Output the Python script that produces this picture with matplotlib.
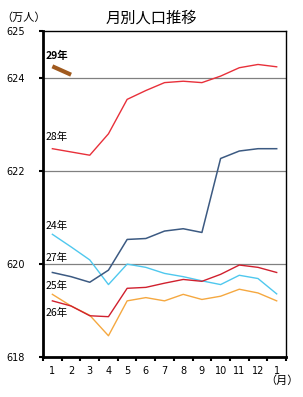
import matplotlib
matplotlib.use("Agg")
import matplotlib.pyplot as plt

plt.rcParams['font.family'] = ['Noto Sans CJK JP', 'DejaVu Sans']

months = ["1", "2", "3", "4", "5", "6", "7", "8", "9", "10", "11", "12", "1"]
y24 = [620.63, 620.36, 620.08, 619.55, 619.99, 619.92, 619.79, 619.72, 619.63, 619.55, 619.75, 619.68, 619.35]
y25 = [619.34, 619.09, 618.89, 618.45, 619.20, 619.27, 619.20, 619.34, 619.23, 619.30, 619.45, 619.37, 619.20]
y26 = [619.20, 619.09, 618.88, 618.86, 619.47, 619.49, 619.58, 619.66, 619.62, 619.77, 619.97, 619.92, 619.81]
y27 = [619.81, 619.72, 619.60, 619.86, 620.52, 620.54, 620.70, 620.75, 620.67, 622.26, 622.42, 622.47, 622.47]
y28 = [622.47, 622.40, 622.33, 622.79, 623.53, 623.72, 623.89, 623.92, 623.89, 624.03, 624.21, 624.28, 624.23]
y29 = [624.24, 624.06]
yticks = [618, 620, 622, 624, 625]

fig = plt.figure(figsize=(3.03, 3.97), dpi=100)
ax = fig.add_axes([0.142, 0.1015, 0.802, 0.8205])
x = list(range(len(months)))

for v in [620, 622, 624]:
    ax.axhline(v, color='#808080', lw=0.9, zorder=1)

ax.plot(x, y24, color='#4FC8EE', lw=1.0, zorder=3)
ax.plot(x, y25, color='#F5A840', lw=1.0, zorder=3)
ax.plot(x, y26, color='#D0202E', lw=1.0, zorder=3)
ax.plot(x, y27, color='#3C5A82', lw=1.1, zorder=3)
ax.plot(x, y28, color='#E8303A', lw=1.0, zorder=3)
ax.plot(x[:len(y29)], y29, color='#A05A1E', lw=3.0, solid_capstyle='butt', zorder=4)

ax.set_xlim(-0.5, len(months) - 0.5)
ax.set_ylim(618, 625)
ax.set_yticks(yticks)
ax.set_yticklabels([str(t) for t in yticks], fontsize=7, family='DejaVu Sans')
ax.set_xticks(x)
ax.set_xticklabels(months, fontsize=7, family='DejaVu Sans')
ax.set_xticks([i - 0.5 for i in range(len(months) + 1)], minor=True)
ax.tick_params(axis='x', which='major', length=0, pad=7)
ax.tick_params(axis='x', which='minor', length=3, width=1.5, direction='out')
ax.tick_params(axis='y', length=3, width=1.5, direction='out', pad=10)

for s in ['left', 'bottom']:
    ax.spines[s].set_linewidth(2.0)
for s in ['top', 'right']:
    ax.spines[s].set_linewidth(1.0)

fig.text(0.5, 0.955, "月別人口推移", ha='center', va='center', fontsize=11)
fig.text(0.005, 0.955, "（万人）", ha='left', va='center', fontsize=8)
fig.text(0.875, 0.042, "（月）", ha='left', va='center', fontsize=8)

labels = [("29年", 624.47, True), ("28年", 622.72, False), ("24年", 620.82, False),
          ("27年", 620.13, False), ("25年", 619.53, False), ("26年", 618.95, False)]
for txt, yy, bold in labels:
    ax.text(-0.35, yy, txt, fontsize=7.5, ha='left', va='center',
            fontweight='bold' if bold else 'normal')

fig.savefig("out.png", dpi=100)
